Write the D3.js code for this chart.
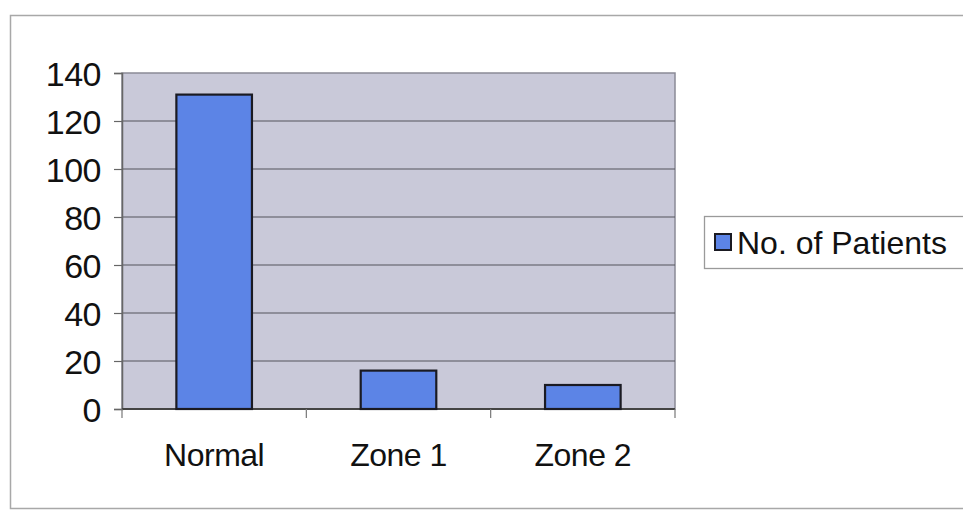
<!DOCTYPE html>
<html>
<head>
<meta charset="utf-8">
<script src="https://cdn.jsdelivr.net/npm/d3@7"></script>
<style>
  html, body { margin: 0; padding: 0; background: #ffffff; }
  svg { display: block; }
  text { font-family: "Liberation Sans", Arial, sans-serif; fill: #111; }
</style>
</head>
<body>
<svg id="chart" width="963" height="511"></svg>
<script>
// Patient counts per zone
const categories = ["Normal", "Zone 1", "Zone 2"];
const patients = [131, 16, 10];
const yTicks = [0, 20, 40, 60, 80, 100, 120, 140];
const seriesName = "No. of Patients";

const svg = d3.select("#chart");
const fontSize = 32;

// Outer chart frame
svg.append("path")
  .attr("d", "M963,15.5 H10.5 V508.5 H963")
  .attr("fill", "none")
  .attr("stroke", "#a8a8a8")
  .attr("stroke-width", 1.5);

const plot = { left: 122, right: 675, top: 73, bottom: 409 };

const x = d3.scaleBand()
  .domain(categories)
  .range([plot.left, plot.right])
  .paddingInner(0.59)
  .paddingOuter(0.295);

const y = d3.scaleLinear()
  .domain([0, 140])
  .range([plot.bottom, plot.top]);

// Plot area background
svg.append("rect")
  .attr("x", plot.left)
  .attr("y", plot.top)
  .attr("width", plot.right - plot.left)
  .attr("height", plot.bottom - plot.top)
  .attr("fill", "#c9c9d9")
  .attr("stroke", "#8a8a96")
  .attr("stroke-width", 1.5);

// Horizontal gridlines
svg.append("g")
  .selectAll("line")
  .data(yTicks.filter(d => d > 0 && d < 140))
  .join("line")
  .attr("x1", plot.left)
  .attr("x2", plot.right)
  .attr("y1", d => y(d))
  .attr("y2", d => y(d))
  .attr("stroke", "#55555c")
  .attr("stroke-width", 1.2);

// Y axis
const yAxis = svg.append("g")
  .attr("transform", `translate(${plot.left},0)`)
  .call(d3.axisLeft(y).tickValues(yTicks).tickSize(8).tickPadding(13));
yAxis.select(".domain").attr("stroke", "#666").attr("stroke-width", 1.5);
yAxis.selectAll(".tick line").attr("stroke", "#666").attr("stroke-width", 1.2);
yAxis.selectAll(".tick text")
  .attr("font-size", 34)
  .attr("font-family", "'Liberation Sans', Arial, sans-serif")
  .attr("fill", "#111")
  .attr("letter-spacing", -0.5)
  .attr("dy", "0.36em");

// X axis: ticks on category boundaries
const step = (plot.right - plot.left) / categories.length;
const boundaries = d3.range(categories.length + 1).map(i => plot.left + i * step);
svg.append("line")
  .attr("x1", plot.left).attr("x2", plot.right)
  .attr("y1", plot.bottom).attr("y2", plot.bottom)
  .attr("stroke", "#444").attr("stroke-width", 1.8);
svg.append("g")
  .selectAll("line")
  .data(boundaries)
  .join("line")
  .attr("x1", d => d).attr("x2", d => d)
  .attr("y1", plot.bottom).attr("y2", plot.bottom + 9)
  .attr("stroke", "#777").attr("stroke-width", 1.2);

svg.append("g")
  .selectAll("text")
  .data(categories)
  .join("text")
  .attr("x", d => x(d) + x.bandwidth() / 2)
  .attr("y", 466)
  .attr("text-anchor", "middle")
  .attr("font-size", fontSize)
  .attr("letter-spacing", -0.5)
  .text(d => d);

// Bars
svg.append("g")
  .selectAll("rect")
  .data(categories.map((c, i) => ({ c, v: patients[i] })))
  .join("rect")
  .attr("x", d => x(d.c))
  .attr("y", d => y(d.v))
  .attr("width", x.bandwidth())
  .attr("height", d => plot.bottom - y(d.v))
  .attr("fill", "#5c84e6")
  .attr("stroke", "#1a1a22")
  .attr("stroke-width", 2.2);

// Legend
const legend = svg.append("g");
legend.append("rect")
  .attr("x", 704.5).attr("y", 216.5)
  .attr("width", 270).attr("height", 52)
  .attr("fill", "#ffffff")
  .attr("stroke", "#9a9a9a")
  .attr("stroke-width", 1.3);
legend.append("rect")
  .attr("x", 715).attr("y", 234)
  .attr("width", 16).attr("height", 16)
  .attr("fill", "#5c84e6")
  .attr("stroke", "#1a1a22")
  .attr("stroke-width", 2);
legend.append("text")
  .attr("x", 737).attr("y", 254)
  .attr("font-size", fontSize)
  .text(seriesName);
</script>
</body>
</html>
